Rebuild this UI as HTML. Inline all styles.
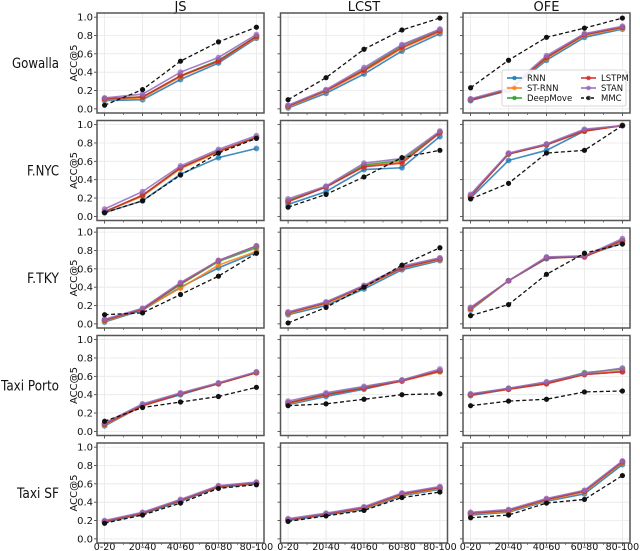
<!DOCTYPE html>
<html><head><meta charset="utf-8">
<style>
html,body{margin:0;padding:0;background:#fff;}
svg{display:block;font-family:"DejaVu Sans","Liberation Sans",sans-serif;}
</style></head>
<body>
<svg id="chart" width="640" height="551" viewBox="0 0 640 551"></svg>
<script>
const categories = ["0-20","20-40","40-60","60-80","80-100"];
const columns = ["JS","LCST","OFE"];
const rowsNames = ["Gowalla","F.NYC","F.TKY","Taxi Porto","Taxi SF"];
const methods = ["RNN","ST-RNN","DeepMove","LSTPM","STAN","MMC"];
const yTicks = [0,0.2,0.4,0.6,0.8,1.0];
const yTickLabels = ["0.0","0.2","0.4","0.6","0.8","1.0"];

// values: [RNN, ST-RNN, DeepMove, LSTPM, STAN, MMC]
const gowallaJS = [[0.09,0.10,0.32,0.50,0.77],[0.10,0.12,0.35,0.52,0.78],[0.11,0.13,0.36,0.53,0.79],[0.11,0.13,0.36,0.52,0.79],[0.12,0.16,0.40,0.56,0.81],[0.04,0.21,0.52,0.73,0.89]];
const gowallaLCST = [[0.01,0.17,0.38,0.63,0.82],[0.02,0.19,0.41,0.66,0.84],[0.03,0.20,0.43,0.69,0.86],[0.03,0.20,0.42,0.67,0.85],[0.04,0.21,0.45,0.70,0.87],[0.10,0.34,0.65,0.86,0.99]];
const gowallaOFE = [[0.09,0.20,0.53,0.78,0.87],[0.10,0.21,0.55,0.80,0.88],[0.10,0.21,0.56,0.81,0.89],[0.10,0.21,0.56,0.81,0.89],[0.11,0.22,0.58,0.82,0.90],[0.23,0.53,0.78,0.88,0.99]];
const fnycJS = [[0.04,0.17,0.46,0.64,0.74],[0.05,0.22,0.52,0.70,0.86],[0.05,0.23,0.53,0.71,0.86],[0.05,0.23,0.53,0.71,0.86],[0.08,0.27,0.55,0.73,0.88],[0.04,0.17,0.45,0.69,0.85]];
const fnycLCST = [[0.13,0.27,0.51,0.53,0.87],[0.17,0.32,0.55,0.59,0.92],[0.17,0.32,0.56,0.61,0.92],[0.16,0.32,0.54,0.58,0.91],[0.19,0.33,0.58,0.63,0.93],[0.10,0.24,0.43,0.64,0.72]];
const fnycOFE = [[0.20,0.61,0.72,0.93,0.99],[0.22,0.68,0.78,0.93,0.99],[0.22,0.68,0.78,0.94,0.99],[0.22,0.68,0.78,0.93,0.99],[0.24,0.69,0.79,0.95,0.99],[0.19,0.36,0.69,0.72,0.99]];
const ftkyJS = [[0.02,0.15,0.40,0.61,0.78],[0.03,0.16,0.39,0.64,0.79],[0.04,0.16,0.43,0.68,0.83],[0.04,0.16,0.44,0.69,0.85],[0.05,0.17,0.45,0.69,0.85],[0.10,0.12,0.32,0.52,0.77]];
const ftkyLCST = [[0.10,0.20,0.38,0.59,0.69],[0.11,0.22,0.40,0.61,0.70],[0.12,0.23,0.41,0.62,0.71],[0.12,0.23,0.41,0.61,0.71],[0.13,0.24,0.42,0.63,0.72],[0.01,0.18,0.40,0.64,0.83]];
const ftkyOFE = [[0.15,0.47,0.71,0.74,0.88],[0.16,0.47,0.72,0.73,0.90],[0.17,0.47,0.72,0.74,0.91],[0.17,0.47,0.72,0.73,0.91],[0.18,0.47,0.73,0.74,0.93],[0.09,0.21,0.54,0.77,0.87]];
const portoJS = [[0.06,0.28,0.40,0.52,0.64],[0.07,0.28,0.41,0.52,0.64],[0.08,0.29,0.41,0.52,0.64],[0.08,0.28,0.41,0.52,0.64],[0.09,0.30,0.42,0.53,0.65],[0.11,0.26,0.32,0.38,0.48]];
const portoLCST = [[0.29,0.38,0.46,0.55,0.65],[0.30,0.40,0.47,0.55,0.65],[0.31,0.41,0.48,0.56,0.66],[0.31,0.40,0.47,0.55,0.66],[0.33,0.42,0.49,0.56,0.68],[0.28,0.30,0.35,0.40,0.41]];
const portoOFE = [[0.39,0.46,0.52,0.62,0.65],[0.40,0.46,0.52,0.62,0.66],[0.40,0.47,0.53,0.64,0.68],[0.40,0.46,0.52,0.62,0.65],[0.41,0.47,0.54,0.63,0.69],[0.28,0.33,0.35,0.43,0.44]];
const sfJS = [[0.18,0.27,0.41,0.56,0.60],[0.19,0.28,0.42,0.57,0.61],[0.19,0.28,0.42,0.57,0.61],[0.19,0.28,0.42,0.57,0.61],[0.20,0.29,0.43,0.58,0.62],[0.17,0.26,0.39,0.55,0.59]];
const sfLCST = [[0.20,0.26,0.32,0.47,0.54],[0.21,0.27,0.33,0.48,0.55],[0.21,0.27,0.34,0.49,0.56],[0.21,0.27,0.34,0.49,0.56],[0.22,0.28,0.35,0.50,0.57],[0.19,0.25,0.31,0.45,0.51]];
const sfOFE = [[0.26,0.29,0.41,0.49,0.81],[0.27,0.30,0.42,0.51,0.83],[0.28,0.31,0.43,0.52,0.84],[0.28,0.31,0.43,0.52,0.84],[0.29,0.32,0.44,0.53,0.85],[0.23,0.26,0.39,0.43,0.69]];

const panels = [[gowallaJS,gowallaLCST,gowallaOFE],[fnycJS,fnycLCST,fnycOFE],[ftkyJS,ftkyLCST,ftkyOFE],[portoJS,portoLCST,portoOFE],[sfJS,sfLCST,sfOFE]];

const colors = ["#1f77b4","#ff7f0e","#2ca02c","#d62728","#9467bd","#111111"];
const rowLabelWidths = [47,32,32,58,42];
const NS = "http://www.w3.org/2000/svg";
const svg = document.getElementById("chart");
function mk(tag, attrs, parent){const e=document.createElementNS(NS,tag);for(const k in attrs)e.setAttribute(k,attrs[k]);(parent||svg).appendChild(e);return e;}

const colLeft=[97,280.5,463], PW=167, rowTop0=13, rowPitch=107.5, PH=100;
const xMin=-0.2,xMax=4.2,yMin=-0.045,yMax=1.045;

for(let c=0;c<3;c++){
  const t=mk("text",{x:colLeft[c]+PW/2,y:11,"text-anchor":"middle","font-size":"13",fill:"#111"});
  t.textContent=columns[c];
  
  
}

for(let r=0;r<5;r++){
  const top=rowTop0+rowPitch*r;
  const rl=mk("text",{x:59,y:top+PH/2+5,"text-anchor":"end","font-size":"14",fill:"#111",textLength:rowLabelWidths[r],lengthAdjust:"spacingAndGlyphs"});
  rl.textContent=rowsNames[r];
  
  
  const yl=mk("text",{transform:`translate(77,${top+PH/2}) rotate(-90)`,"text-anchor":"middle","font-size":"10",fill:"#111"});
  yl.textContent="ACC@5";
  
  
  for(let c=0;c<3;c++){
    const L=colLeft[c];
    const X=v=>L+(v-xMin)/(xMax-xMin)*PW;
    const Y=v=>top+PH-(v-yMin)/(yMax-yMin)*PH;
    const g=mk("g",{});
    
    
    yTicks.forEach((v,i)=>{
      mk("line",{x1:L,x2:L+PW,y1:Y(v),y2:Y(v),stroke:"#e8e8e8","stroke-width":0.8},g);
      mk("line",{x1:L-3,x2:L,y1:Y(v),y2:Y(v),stroke:"#333","stroke-width":0.8},g);
      if(c===0){const tl=mk("text",{x:L-4,y:Y(v)+3.5,"text-anchor":"end","font-size":"10",fill:"#111"},g);tl.textContent=yTickLabels[i];}
    });
    categories.forEach((cat,i)=>{
      mk("line",{x1:X(i),x2:X(i),y1:top,y2:top+PH,stroke:"#e8e8e8","stroke-width":0.8},g);
      mk("line",{x1:X(i),x2:X(i),y1:top+PH,y2:top+PH+3,stroke:"#333","stroke-width":0.8},g);
      if(i<4) mk("line",{x1:X(i+0.5),x2:X(i+0.5),y1:top+PH,y2:top+PH+2,stroke:"#333","stroke-width":0.6},g);
      if(r===4){const xl=mk("text",{x:X(i),y:550,"text-anchor":"middle","font-size":"9.5",fill:"#111"},g);xl.textContent=cat;}
    });
    const data=panels[r][c];
    data.forEach((vals,m)=>{
      const s=mk("g",{},g);
      
      
      const pts=vals.map((v,i)=>X(i)+","+Y(v)).join(" ");
      const attrs={points:pts,fill:"none",stroke:colors[m],"stroke-width":m===5?1.3:1.6,"stroke-opacity":m===5?1:0.85};
      if(m===5) attrs["stroke-dasharray"]="4,2.5";
      mk("polyline",attrs,s);
      vals.forEach((v,i)=>{
        mk("circle",{cx:X(i),cy:Y(v),r:m===5?2.6:2.9,fill:colors[m],"fill-opacity":m===5?1:0.75},s);
      });
    });
    mk("rect",{x:L,y:top,width:PW,height:PH,fill:"none",stroke:"#555","stroke-width":1.5},g);
  }
}

// legend
const lg=mk("g",{});


mk("rect",{x:502,y:70,width:124,height:36,rx:2,fill:"#fff","fill-opacity":0.9,stroke:"#ccc","stroke-width":0.8},lg);
const legOrder=[[0,0],[1,0],[2,0],[3,1],[4,1],[5,1]];
legOrder.forEach(([m,col],k)=>{
  const row=k%3, lx=col===0?507:581, ly=78+row*10;
  const e=mk("g",{},lg);
  
  
  const la={x1:lx,x2:lx+15,y1:ly,y2:ly,stroke:colors[m],"stroke-width":1.5};
  if(m===5) la["stroke-dasharray"]="3,2";
  mk("line",la,e);
  mk("circle",{cx:lx+7.5,cy:ly,r:2.3,fill:colors[m],"fill-opacity":0.8},e);
  const t=mk("text",{x:lx+20,y:ly+3,"font-size":"8.5",fill:"#111"},e);
  t.textContent=methods[m];
});
</script>
</body></html>
